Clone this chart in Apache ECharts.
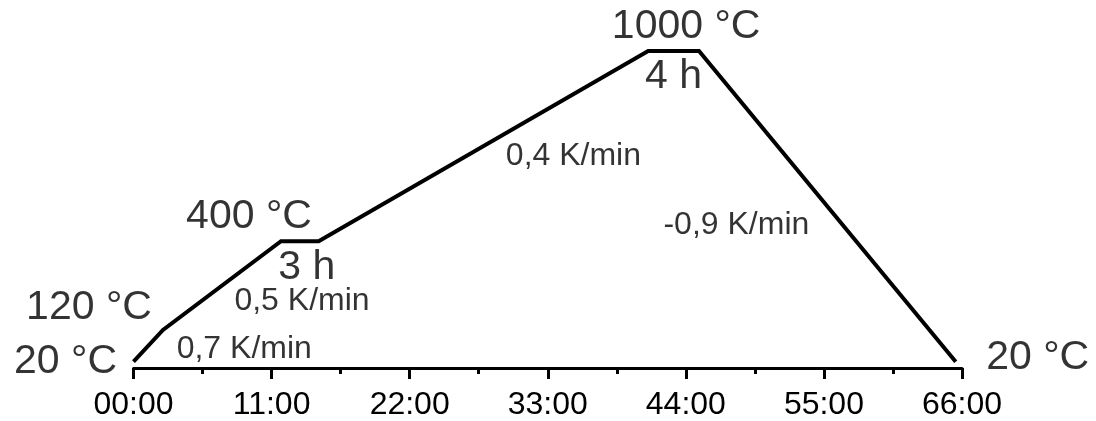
<!DOCTYPE html>
<html>
<head>
<meta charset="utf-8">
<script src="https://cdn.jsdelivr.net/npm/echarts@6/dist/echarts.min.js"></script>
<style>
  html, body { margin: 0; padding: 0; background: #fff; }
  #chart { width: 1096px; height: 421px; }
</style>
</head>
<body>
<div id="chart"></div>
<script>
// Firing profile: time in hours, furnace temperature in °C
const times = [0, 2.35, 11.75, 14.75, 41.0, 45.05, 65.5];
const temps = [20, 120, 400, 400, 1000, 1000, 20];

// Hold durations (label per plateau: start index of the plateau)
const holdLabels = ['3 h', '4 h'];
const holdStarts = [2, 4];

// Ramp rates (label per ramp: start index of the segment)
const rateLabels = ['0,7 K/min', '0,5 K/min', '0,4 K/min', '-0,9 K/min'];
const rateStarts = [0, 1, 3, 5];

// Temperature labels at selected points
const tempPointIdx = [0, 1, 2, 4, 6];

// Axis ticks
const xTickValues = [0, 11, 22, 33, 44, 55, 66];

const FONT = '"Liberation Sans", Arial, sans-serif';
const BIG = 41;
const SMALL = 32;

// label offsets in pixels (layout only)
const tempOffsets = {0: [-68, 0], 1: [-74, -22], 2: [-32, -25], 4: [38, -24], 6: [82, -4]};
const holdOffsets = [[7, 26], [0, 26]];
const rateOffsets = [[96, 3], [80, 16], [90, 10], [-91, 19]];

const profile = times.map((t, i) => [t, temps[i]]);

const annotations = [];
tempPointIdx.forEach(i => {
  annotations.push({
    value: [times[i], temps[i]],
    label: { formatter: temps[i] + ' °C', fontSize: BIG, offset: tempOffsets[i] }
  });
});
holdStarts.forEach((i, k) => {
  annotations.push({
    value: [(times[i] + times[i + 1]) / 2, temps[i]],
    label: { formatter: holdLabels[k], fontSize: BIG, offset: holdOffsets[k] }
  });
});
rateStarts.forEach((i, k) => {
  annotations.push({
    value: [(times[i] + times[i + 1]) / 2, (temps[i] + temps[i + 1]) / 2],
    label: { formatter: rateLabels[k], fontSize: SMALL, offset: rateOffsets[k] }
  });
});

const chart = echarts.init(document.getElementById('chart'), null, { renderer: 'canvas' });
chart.setOption({
  animation: false,
  backgroundColor: '#fff',
  grid: { left: 133.5, right: 134, top: 51, bottom: 49.6 },
  xAxis: {
    type: 'value',
    min: 0,
    max: 66,
    interval: 11,
    axisLine: { show: true, onZero: false, lineStyle: { color: '#000', width: 3 } },
    axisTick: { show: true, length: 11, lineStyle: { color: '#000', width: 3 } },
    minorTick: { show: true, splitNumber: 2, length: 6, lineStyle: { color: '#000', width: 3 } },
    splitLine: { show: false },
    axisLabel: {
      color: '#000',
      fontSize: SMALL,
      fontFamily: FONT,
      margin: 21,
      showMinLabel: true,
      showMaxLabel: true,
      customValues: xTickValues,
      formatter: v => String(v).padStart(2, '0') + ':00'
    }
  },
  yAxis: {
    type: 'value',
    min: 0,
    max: 1000,
    show: false,
    splitLine: { show: false }
  },
  series: [
    {
      type: 'line',
      data: profile,
      symbol: 'none',
      clip: false,
      lineStyle: { color: '#000', width: 4, join: 'miter', cap: 'butt' }
    },
    {
      type: 'scatter',
      data: annotations,
      symbolSize: 0,
      clip: false,
      silent: true,
      label: {
        show: true,
        position: 'inside',
        align: 'center',
        verticalAlign: 'middle',
        color: '#000',
        fontFamily: FONT
      }
    }
  ]
});
</script>
</body>
</html>
